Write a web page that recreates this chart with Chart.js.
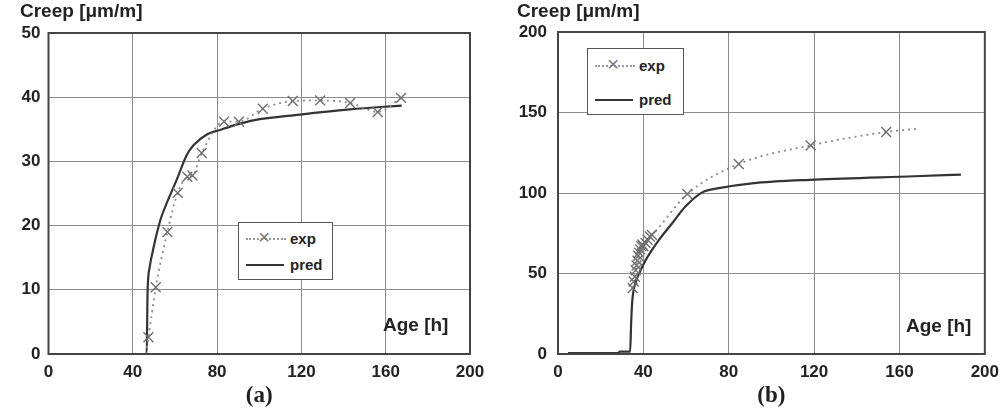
<!DOCTYPE html>
<html>
<head>
<meta charset="utf-8">
<script src="https://cdn.jsdelivr.net/npm/chart.js@4.4.1/dist/chart.umd.min.js"></script>
<style>
  body { margin: 0; background: #fff; width: 1007px; height: 417px; overflow: hidden; position: relative;
         font-family: "Liberation Sans", Arial, sans-serif; }
  .box { position: absolute; top: 0; height: 417px; }
  .lbl { position: absolute; font-weight: bold; color: #222; white-space: nowrap; line-height: 1; }
  .legend { position: absolute; border: 1.5px solid #555; background: #fff; box-sizing: border-box; }
  .row { position: absolute; left: 7px; height: 16px; font-weight: bold; font-size: 15px; color: #222; line-height: 16px; }
  .row .txt { position: absolute; left: 44px; top: 0; }
  .dots { position: absolute; left: 0; top: 7px; width: 40px; border-top: 2px dotted #999; }
  .solid { position: absolute; left: 0; top: 7px; width: 38px; border-top: 2px solid #333; }
  .cross { position: absolute; left: 12px; top: -2px; font-size: 21px; color: #777; font-weight: normal; }
</style>
</head>
<body>
<div class="box" style="left:0;width:500px"><canvas id="chartA"></canvas></div>
<div class="box" style="left:500px;width:507px"><canvas id="chartB"></canvas></div>

<div class="lbl" style="left:20px;top:1px;font-size:19px">Creep [μm/m]</div>
<div class="lbl" style="left:517px;top:1px;font-size:19px">Creep [μm/m]</div>
<div class="lbl" style="left:383px;top:315px;font-size:19px">Age [h]</div>
<div class="lbl" style="left:906px;top:316px;font-size:19px">Age [h]</div>

<div class="legend" style="left:238px;top:222px;width:95px;height:58px">
  <div class="row" style="top:8px"><span class="dots"></span><span class="cross">×</span><span class="txt">exp</span></div>
  <div class="row" style="top:34px"><span class="solid"></span><span class="txt">pred</span></div>
</div>
<div class="legend" style="left:587px;top:48px;width:97px;height:67px">
  <div class="row" style="top:9px"><span class="dots"></span><span class="cross">×</span><span class="txt">exp</span></div>
  <div class="row" style="top:43px"><span class="solid"></span><span class="txt">pred</span></div>
</div>

<script>
// tick labels
const ageTicks = [0, 40, 80, 120, 160, 200];
const creepTicksA = [0, 10, 20, 30, 40, 50];
const creepTicksB = [0, 50, 100, 150, 200];

// (a) measured creep
const expAgeA   = [12, 46, 47.4, 50.9, 56.4, 61.3, 65.9, 68.3, 72.7, 83.3, 90.3, 101.7, 115.9, 128.9, 143.1, 156.2, 167.3];
const expCreepA = [0, 0, 2.6, 10.4, 19.0, 25.1, 27.6, 27.8, 31.3, 36.2, 36.2, 38.2, 39.4, 39.5, 39.1, 37.7, 39.9];
const expMarkA  = [0, 0, 1, 1, 1, 1, 1, 1, 1, 1, 1, 1, 1, 1, 1, 1, 1];

// (a) predicted creep
const predAgeA   = [0, 46.6, 47, 48, 49.8, 51.4, 53.5, 56.1, 60.9, 65.6, 68.8, 75.1, 81.4, 90, 97.2, 119.4, 143, 167.6];
const predCreepA = [0, 0, 9.5, 13.5, 16.5, 18.8, 21.3, 23.5, 27.2, 31.0, 32.5, 34.2, 34.9, 35.8, 36.4, 37.3, 38.1, 38.7];

// (b) measured creep
const expAgeB   = [35.0, 35.5, 36.0, 36.4, 36.8, 37.2, 37.6, 38.0, 38.5, 39.0, 39.5, 40.0, 41.0, 42.0, 43.0, 44.0, 60.6, 84.7, 118.4, 153.8, 167.8];
const expCreepB = [41, 45, 48, 52, 55, 58, 61, 63, 65, 67, 68, 67, 69, 71, 73, 74, 99.4, 118, 129.6, 137.9, 139.8];
const expMarkB  = [1, 1, 1, 1, 1, 1, 1, 1, 1, 1, 1, 1, 1, 1, 1, 1, 1, 1, 1, 1, 0];

// (b) predicted creep
const predAgeB   = [4.7, 28, 29, 33.8, 34.3, 34.8, 35.5, 36.5, 38, 41.2, 44, 47.4, 53.6, 59.8, 67.6, 75.4, 90.9, 120.4, 167, 188.8];
const predCreepB = [0.5, 0.5, 1.5, 1.5, 20, 33, 40, 45, 50, 58.6, 64.5, 71, 81.4, 91.7, 100.4, 103, 106, 108.3, 110.4, 111.4];

function zip(xs, ys) {
    return xs.map((x, i) => ({ x: x, y: ys[i] }));
}

const frameBox = {
    id: 'frameBox',
    afterDraw(chart) {
        const a = chart.chartArea;
        const ctx = chart.ctx;
        ctx.save();
        ctx.strokeStyle = '#444';
        ctx.lineWidth = 2;
        ctx.strokeRect(a.left, a.top, a.right - a.left, a.bottom - a.top);
        ctx.restore();
    }
};

const tickFont = { family: '"Liberation Sans", Arial, sans-serif', size: 17, weight: 'bold' };

function makeChart(id, o) {
    const ctx = document.getElementById(id).getContext('2d');
    return new Chart(ctx, {
        type: 'scatter',
        data: {
            datasets: [{
                label: 'exp',
                data: zip(o.expX, o.expY),
                showLine: true,
                borderColor: '#8a8a8a',
                borderWidth: 1.8,
                borderDash: [2, 4],
                pointStyle: 'crossRot',
                pointRadius: o.expMark.map(m => m ? 7 : 0),
                pointBorderColor: '#6f6f6f',
                pointBorderWidth: 1.4,
                cubicInterpolationMode: 'monotone'
            }, {
                label: 'pred',
                data: zip(o.predX, o.predY),
                showLine: true,
                borderColor: '#333',
                borderWidth: 2.2,
                pointRadius: 0,
                cubicInterpolationMode: 'monotone'
            }]
        },
        options: {
            responsive: true,
            maintainAspectRatio: false,
            animation: false,
            layout: { padding: { top: o.top, right: o.right, left: 0, bottom: 0 } },
            plugins: { legend: { display: false }, tooltip: { enabled: false } },
            scales: {
                x: {
                    type: 'linear', min: 0, max: 200,
                    afterBuildTicks: s => { s.ticks = ageTicks.map(v => ({ value: v })); },
                    afterFit: s => { s.height = 63; },
                    ticks: { font: tickFont, color: '#222', padding: 8 },
                    grid: { color: '#8c8c8c', lineWidth: 1, drawTicks: false },
                    border: { display: false },
                    title: {
                        display: true, text: o.tag, color: '#222',
                        font: { family: '"Liberation Serif", "Times New Roman", serif', size: 23, weight: 'bold' },
                        padding: { top: 0, bottom: 7 }
                    }
                },
                y: {
                    min: 0, max: o.yTicks[o.yTicks.length - 1],
                    afterBuildTicks: s => { s.ticks = o.yTicks.map(v => ({ value: v })); },
                    afterFit: s => { s.width = o.yWidth; },
                    ticks: { font: tickFont, color: '#222', padding: o.yPad },
                    grid: { color: '#8c8c8c', lineWidth: 1, drawTicks: false },
                    border: { display: false }
                }
            }
        },
        plugins: [frameBox]
    });
}

makeChart('chartA', {
    expX: expAgeA, expY: expCreepA, expMark: expMarkA,
    predX: predAgeA, predY: predCreepA,
    yTicks: creepTicksA, tag: '(a)',
    top: 33, right: 30, yWidth: 48.5, yPad: 8
});

makeChart('chartB', {
    expX: expAgeB, expY: expCreepB, expMark: expMarkB,
    predX: predAgeB, predY: predCreepB,
    yTicks: creepTicksB, tag: '(b)',
    top: 32, right: 20, yWidth: 58, yPad: 11
});
</script>
</body>
</html>
